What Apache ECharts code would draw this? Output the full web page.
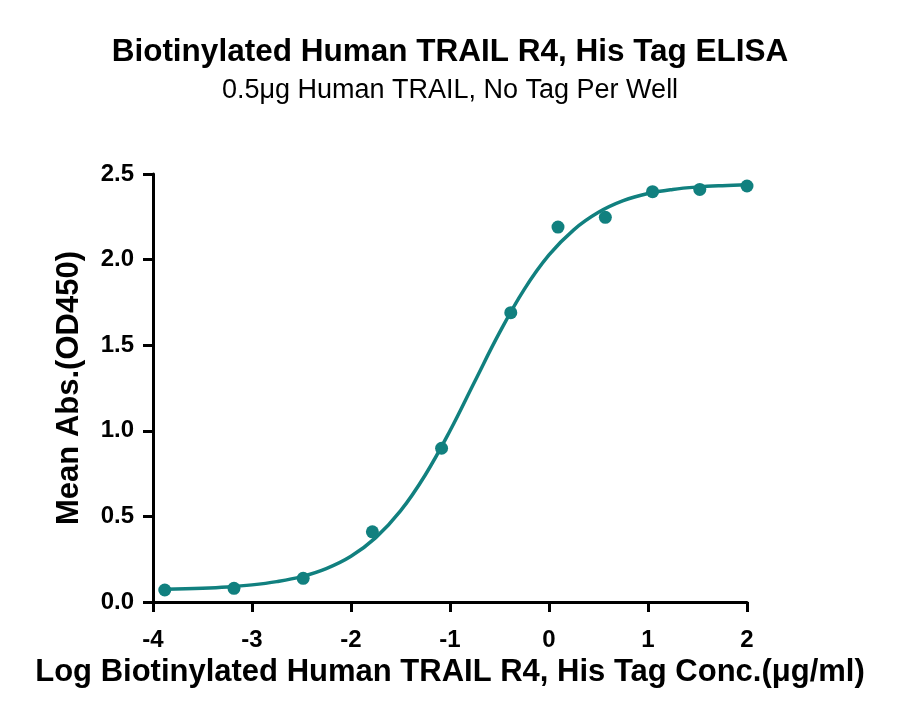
<!DOCTYPE html>
<html>
<head>
<meta charset="utf-8">
<script src="https://cdn.jsdelivr.net/npm/echarts@6/dist/echarts.min.js"></script>
<style>
html,body{margin:0;padding:0;background:#fff;}
#chart{width:900px;height:726px;}
</style>
</head>
<body>
<div id="chart"></div>
<script>
// Measured points (log concentration, mean OD450)
var pointX = [-3.881, -3.182, -2.483, -1.784, -1.085, -0.386, 0.091, 0.569, 1.046, 1.523, 2.0];
var pointY = [0.070, 0.080, 0.138, 0.410, 0.898, 1.690, 2.190, 2.247, 2.397, 2.410, 2.430];
// Fitted curve
var curveX = [-3.88, -3.5, -3.25, -3.0, -2.75, -2.5, -2.25, -2.0, -1.75, -1.5, -1.25, -1.0, -0.75, -0.5, -0.25, 0, 0.25, 0.5, 0.75, 1.0, 1.25, 1.5, 1.75, 2.0];
var curveY = [0.075, 0.081, 0.088, 0.100, 0.119, 0.148, 0.195, 0.267, 0.376, 0.532, 0.742, 1.000, 1.288, 1.573, 1.826, 2.027, 2.174, 2.276, 2.344, 2.386, 2.410, 2.424, 2.432, 2.437];
var xTicks = [-4, -3, -2, -1, 0, 1, 2];
var yTicks = [0, 0.5, 1.0, 1.5, 2.0, 2.5];

var titleText = 'Biotinylated Human TRAIL R4, His Tag ELISA';
var subText = '0.5\u03bcg Human TRAIL, No Tag Per Well';
var xName = 'Log Biotinylated Human TRAIL R4, His Tag Conc.(\u03bcg/ml)';
var yName = 'Mean Abs.(OD450)';

var FONT = '"Liberation Sans", Arial, Helvetica, sans-serif';
var TEAL = '#11807f';

function zip(a, b) { return a.map(function (v, i) { return [v, b[i]]; }); }

var chart = echarts.init(document.getElementById('chart'), null, {renderer: 'canvas'});
chart.setOption({
  backgroundColor: '#ffffff',
  animation: false,
  title: [
    {text: titleText, left: 'center', top: 31,
     textStyle: {fontFamily: FONT, fontSize: 31.5, fontWeight: 'bold', color: '#000'}},
    {text: subText, left: 'center', top: 72,
     textStyle: {fontFamily: FONT, fontSize: 27, fontWeight: 'normal', color: '#000'}}
  ],
  grid: {left: 153, right: 153, top: 174, bottom: 124, containLabel: false},
  xAxis: {
    type: 'value', min: xTicks[0], max: xTicks[xTicks.length - 1], interval: 1,
    name: xName, nameLocation: 'middle', nameGap: 44,
    nameTextStyle: {fontFamily: FONT, fontSize: 31, fontWeight: 'bold', color: '#000'},
    axisLine: {onZero: false, lineStyle: {color: '#000', width: 3}},
    axisTick: {show: true, length: 10, lineStyle: {color: '#000', width: 3}},
    axisLabel: {fontFamily: FONT, fontSize: 24, fontWeight: 'bold', color: '#000', margin: 26},
    splitLine: {show: false}
  },
  yAxis: {
    type: 'value', min: yTicks[0], max: yTicks[yTicks.length - 1], interval: 0.5,
    name: yName, nameLocation: 'middle', nameGap: 68, nameRotate: 90,
    nameTextStyle: {fontFamily: FONT, fontSize: 31, fontWeight: 'bold', color: '#000'},
    axisLine: {show: true, onZero: false, lineStyle: {color: '#000', width: 3}},
    axisTick: {show: true, length: 10, lineStyle: {color: '#000', width: 3}},
    axisLabel: {fontFamily: FONT, fontSize: 24, fontWeight: 'bold', color: '#000', margin: 19,
      formatter: function (v) { return v.toFixed(1); }},
    splitLine: {show: false}
  },
  series: [
    {type: 'line', data: zip(curveX, curveY), smooth: 0.4, showSymbol: false,
     lineStyle: {color: TEAL, width: 3.5}, z: 2},
    {type: 'scatter', data: zip(pointX, pointY), symbol: 'circle', symbolSize: 13,
     itemStyle: {color: TEAL, opacity: 1}, z: 3}
  ]
});
</script>
</body>
</html>
